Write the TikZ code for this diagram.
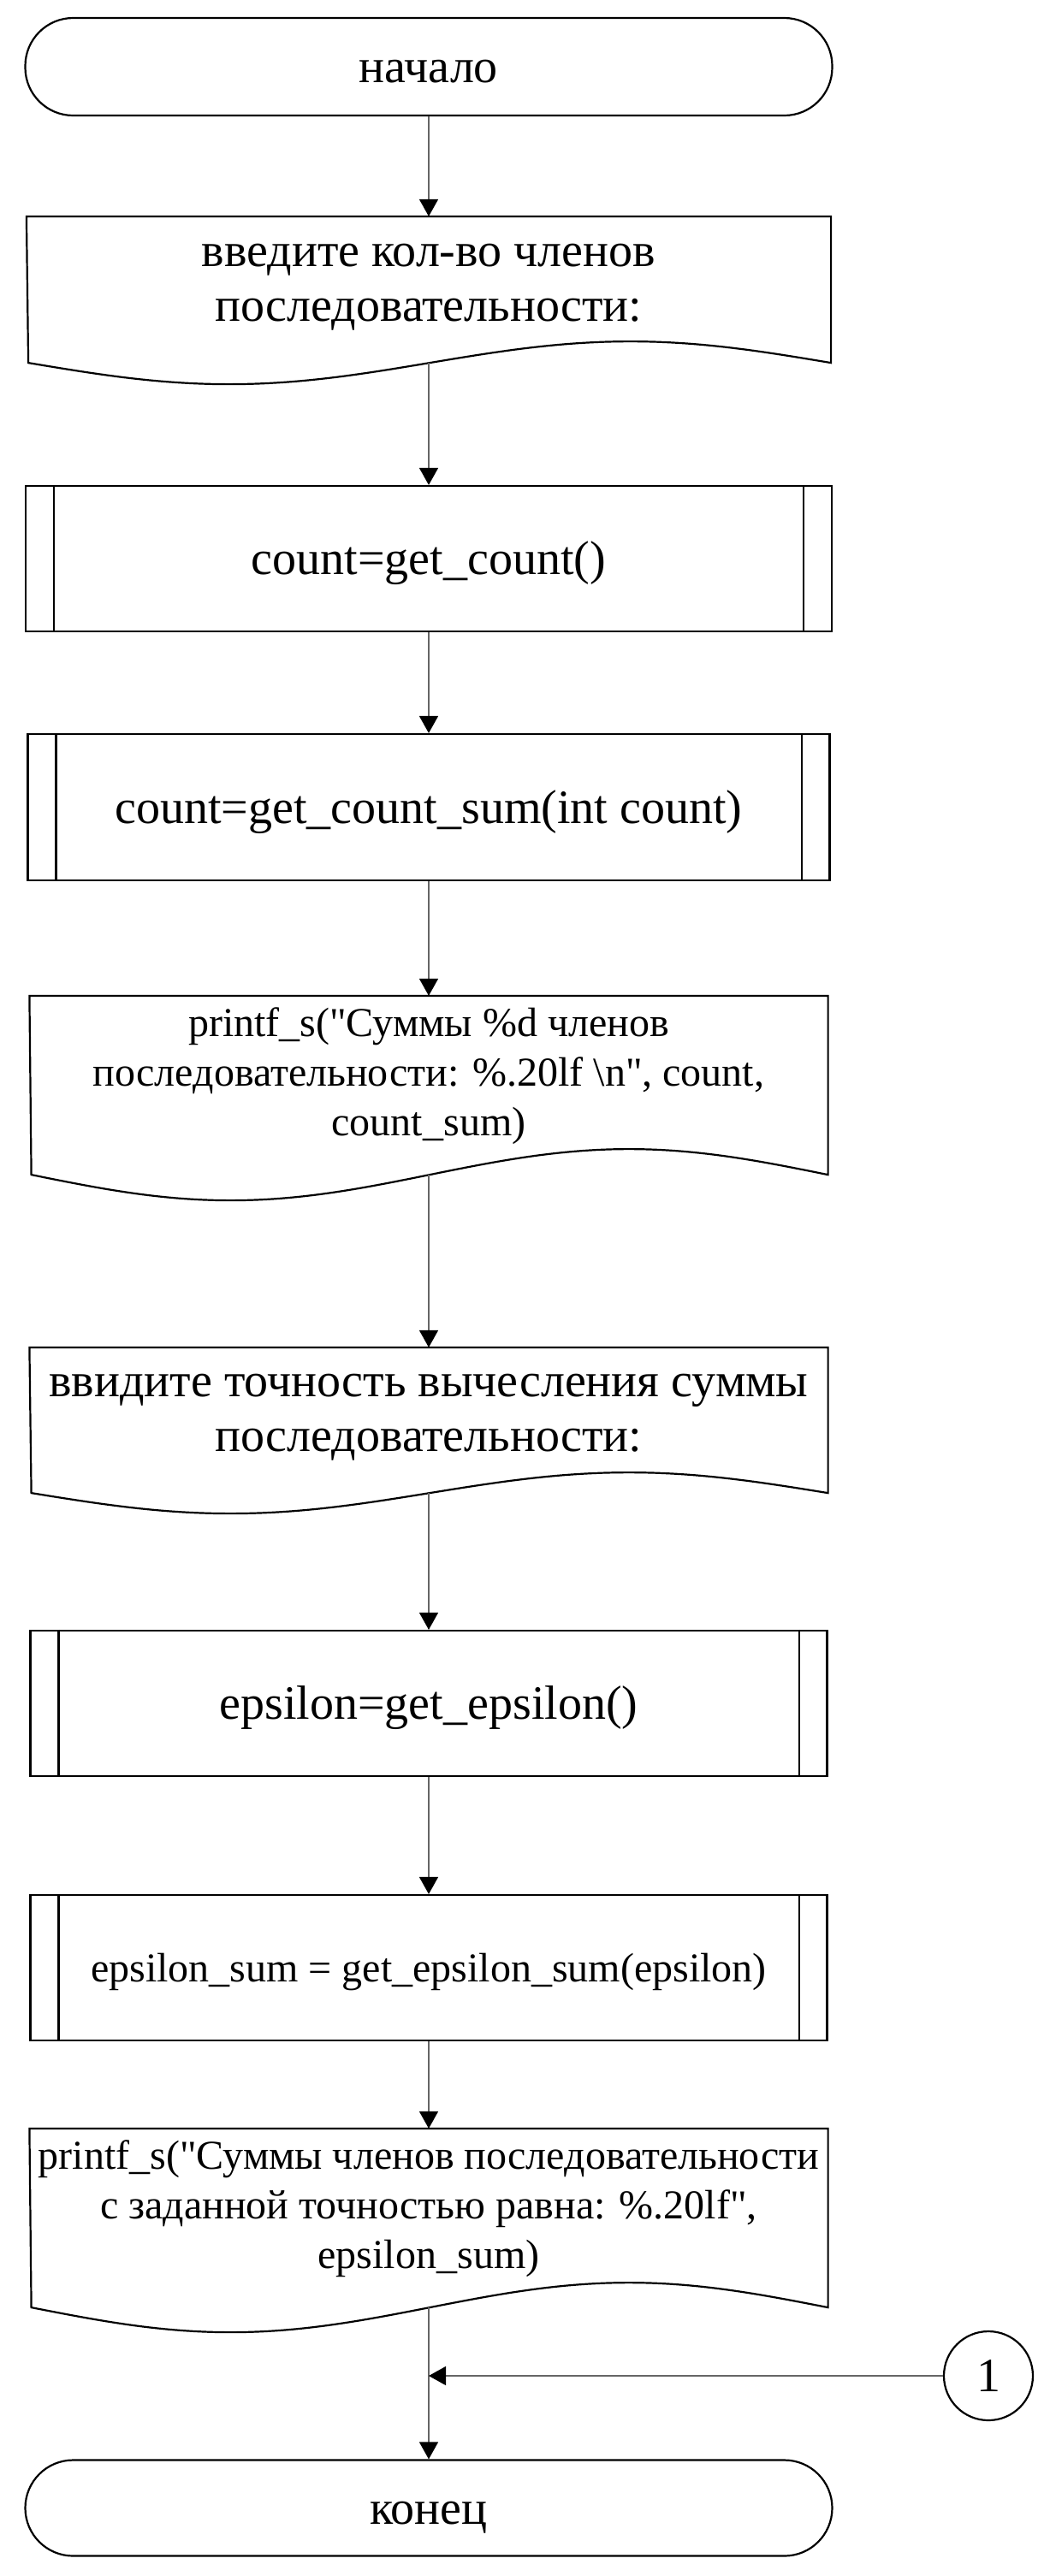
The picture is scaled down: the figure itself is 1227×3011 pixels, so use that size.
\documentclass[tikz,border=0pt]{standalone}
\usepackage{fontspec}
\setmainfont{Liberation Serif}
\usetikzlibrary{arrows.meta}
\newcommand\wstrut{\rule[-0.216em]{0pt}{1.107em}}
\newcommand\docstrut[1]{\rule[-#1]{0pt}{1pt}}
% document shape: node, quarter width, wave height
\def\docwave#1#2#3{\draw[outline] (#1.south east) sin ++(-#2,-#3) cos ++(-#2,#3) sin ++(-#2,#3) cos ++(-#2,-#3) -- (#1.north west) -- (#1.north east) -- cycle;}
% inner bars of a subprocess
\def\sublines#1{\draw[outline] ([xshift=8.5pt]#1.north west) -- ([xshift=8.5pt]#1.south west) ([xshift=-8.5pt]#1.north east) -- ([xshift=-8.5pt]#1.south east);}
\tikzset{
  outline/.style={line width=0.55pt},
  box/.style={outline, inner sep=0pt, align=center, font=\fontsize{14}{16}\selectfont,
    execute at begin node=\wstrut, execute at end node=\wstrut},
  small/.style={font=\fontsize{12}{14.5}\selectfont},
  term/.style={box, draw, rounded corners=14pt, minimum width=235.75pt, minimum height=28.5pt},
  subproc/.style={box, draw, minimum width=232.75pt, minimum height=42.5pt},
  doc/.style={box, minimum width=232.75pt, execute at end node=\docstrut{4.3pt}},
  smalldoc/.style={doc, small, execute at end node=\docstrut{7.8pt}},
  conn/.style={outline, draw, circle, inner sep=0pt, minimum size=26pt, font=\fontsize{14}{16}\selectfont},
  link/.style={line width=0.3pt, draw=black!60, -{Triangle[length=5pt, width=5.5pt, color=black]}}
}

\begin{document}
\begin{tikzpicture}[x=0.25pt, y=-0.25pt]
  \useasboundingbox (0,0) rectangle (1227,3011);

  % Start
  \node (start) at (501,78) [term] {начало};

  % Count prompt
  \node (doc1) at (501,338.5) [doc, minimum width=234.5pt, minimum height=42.25pt] {введите кол-во членов\\последовательности:};
  \docwave{doc1}{234.5}{25}

  % Count
  \node (sub1) at (501,653) [subproc, minimum width=235.5pt] {count=get\_count()};
  \sublines{sub1}

  % Count sum
  \node (sub2) at (501,943.5) [subproc, minimum width=234.25pt, minimum height=42.75pt] {count=get\_count\_sum(int count)};
  \sublines{sub2}

  % Count output
  \node (doc2) at (501,1268.5) [smalldoc, minimum height=51.75pt] {printf\_s(\textquotedbl Суммы \%d членов\\последовательности: \%.20lf \textbackslash n\textquotedbl, count,\\count\_sum)};
  \docwave{doc2}{232.75}{30}

  % Epsilon prompt
  \node (doc3) at (501,1660) [doc, minimum height=42pt] {ввидите точность вычесления суммы\\последовательности:};
  \docwave{doc3}{232.75}{24}

  % Epsilon
  \node (sub3) at (501,1991) [subproc] {epsilon=get\_epsilon()};
  \sublines{sub3}

  % Epsilon sum
  \node (sub4) at (501,2300) [subproc, small] {epsilon\_sum = get\_epsilon\_sum(epsilon)};
  \sublines{sub4}

  % Epsilon output
  \node (doc4) at (501,2592.5) [smalldoc, minimum height=51.75pt] {printf\_s(\textquotedbl Суммы членов последовательности\\с заданной точностью равна: \%.20lf\textquotedbl,\\epsilon\_sum)};
  \docwave{doc4}{232.75}{29}

  % Connector
  \node (c1) at (1155,2777) [conn] {1};

  % End
  \node (finish) at (501,2931.5) [term, minimum height=28pt] {конец};

  % Flow
  \draw[link] (start) -- (doc1);
  \draw[link] (doc1) -- (sub1);
  \draw[link] (sub1) -- (sub2);
  \draw[link] (sub2) -- (doc2);
  \draw[link] (doc2) -- (doc3);
  \draw[link] (doc3) -- (sub3);
  \draw[link] (sub3) -- (sub4);
  \draw[link] (sub4) -- (doc4);
  \draw[link] (doc4) -- (finish);
  \coordinate (j1) at (doc4.south |- c1);
  \draw[link] (c1) -- (j1);
\end{tikzpicture}
\end{document}
